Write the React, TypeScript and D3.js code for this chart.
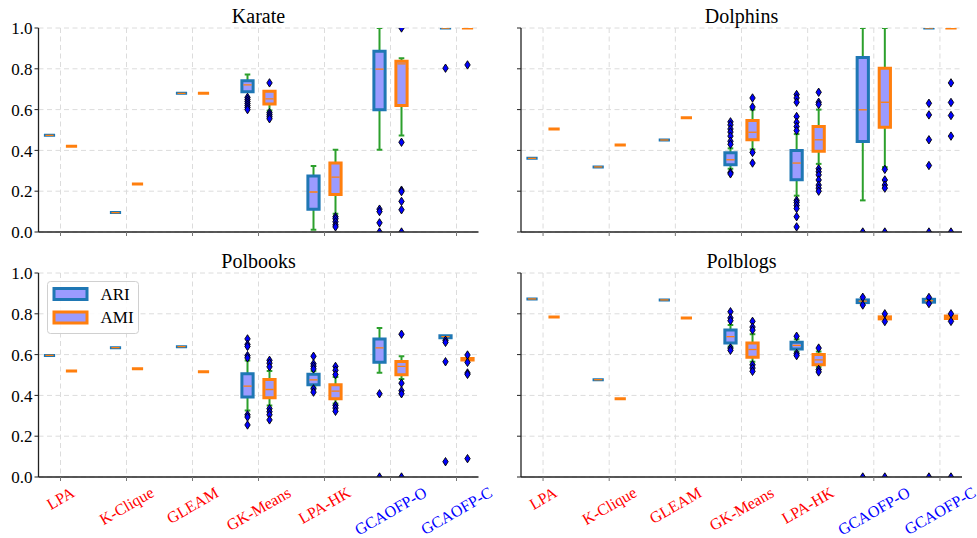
import React from "react";
import * as d3 from "d3";

// [lower whisker, q1, median, q3, upper whisker, fliers]
type Stat = [number, number, number, number, number, number[]];

const methods = ["LPA", "K-Clique", "GLEAM", "GK-Means", "LPA-HK", "GCAOFP-O", "GCAOFP-C"];
const methodColors = ["#ff0000", "#ff0000", "#ff0000", "#ff0000", "#ff0000", "#0000ff", "#0000ff"];
const yTicks = [0, 0.2, 0.4, 0.6, 0.8, 1.0];
const seriesNames = ["ARI", "AMI"];

const flat = (v: number): Stat => [v, v, v, v, v, []];

const karateAri: Stat[] = [
  flat(0.474),
  flat(0.095),
  flat(0.68),
  [0.687, 0.687, 0.721, 0.742, 0.772, [0.66, 0.65, 0.64, 0.63, 0.62, 0.61, 0.6]],
  [0.011, 0.111, 0.196, 0.274, 0.323, []],
  [0.403, 0.599, 0.798, 0.886, 1.0, [0.112, 0.1, 0.045, 0.0]],
  [1, 1, 1, 1, 1, [0.803]],
];
const karateAmi: Stat[] = [
  flat(0.42),
  flat(0.235),
  flat(0.68),
  [0.595, 0.628, 0.653, 0.69, 0.69, [0.731, 0.585, 0.575, 0.565, 0.555]],
  [0.09, 0.184, 0.269, 0.338, 0.403, [0.075, 0.065, 0.05, 0.035, 0.025]],
  [0.473, 0.62, 0.824, 0.837, 0.852, [1.0, 0.44, 0.205, 0.198, 0.15, 0.109, 0.0]],
  [1, 1, 1, 1, 1, [0.819]],
];

const dolphinsAri: Stat[] = [
  flat(0.361),
  flat(0.319),
  flat(0.451),
  [0.31, 0.33, 0.354, 0.388, 0.41, [0.54, 0.525, 0.505, 0.49, 0.47, 0.445, 0.43, 0.292, 0.285]],
  [0.178, 0.256, 0.338, 0.4, 0.48, [0.674, 0.657, 0.636, 0.566, 0.538, 0.517, 0.497, 0.155, 0.145, 0.13, 0.115, 0.075, 0.025]],
  [0.155, 0.444, 0.599, 0.856, 1.0, [0.0]],
  [1, 1, 1, 1, 1, [0.631, 0.574, 0.452, 0.326, 0.0]],
];
const dolphinsAmi: Stat[] = [
  flat(0.505),
  flat(0.426),
  flat(0.56),
  [0.405, 0.452, 0.489, 0.546, 0.6, [0.657, 0.613, 0.39, 0.338]],
  [0.334, 0.396, 0.452, 0.517, 0.6, [0.685, 0.636, 0.625, 0.31, 0.295, 0.28, 0.255, 0.23, 0.215, 0.2]],
  [0.318, 0.514, 0.636, 0.803, 1.0, [0.307, 0.255, 0.23, 0.215, 0.0]],
  [1, 1, 1, 1, 1, [0.731, 0.635, 0.571, 0.47, 0.0]],
];

const polbooksAri: Stat[] = [
  flat(0.596),
  flat(0.634),
  flat(0.639),
  [0.326, 0.392, 0.445, 0.506, 0.571, [0.677, 0.65, 0.64, 0.595, 0.584, 0.305, 0.294, 0.255]],
  [0.44, 0.452, 0.476, 0.504, 0.52, [0.592, 0.555, 0.543, 0.53, 0.432, 0.416]],
  [0.511, 0.563, 0.633, 0.677, 0.731, [0.408, 0.0]],
  [0.683, 0.683, 0.688, 0.693, 0.693, [0.67, 0.66, 0.565, 0.075]],
];
const polbooksAmi: Stat[] = [
  flat(0.52),
  flat(0.531),
  flat(0.516),
  [0.35, 0.388, 0.429, 0.478, 0.52, [0.572, 0.558, 0.54, 0.335, 0.32, 0.305, 0.28]],
  [0.36, 0.383, 0.421, 0.452, 0.49, [0.542, 0.523, 0.502, 0.351, 0.338, 0.322]],
  [0.48, 0.501, 0.542, 0.566, 0.592, [0.7, 0.46, 0.423, 0.408, 0.0]],
  [0.574, 0.574, 0.578, 0.581, 0.581, [0.598, 0.562, 0.51, 0.503, 0.09]],
];

const polblogsAri: Stat[] = [
  flat(0.873),
  flat(0.477),
  flat(0.868),
  [0.64, 0.657, 0.688, 0.721, 0.745, [0.81, 0.78, 0.766, 0.632, 0.621]],
  [0.615, 0.628, 0.645, 0.661, 0.675, [0.69, 0.605, 0.595]],
  [0.855, 0.855, 0.862, 0.868, 0.868, [0.881, 0.843, 0.0]],
  [0.857, 0.857, 0.864, 0.871, 0.871, [0.88, 0.85, 0.0]],
];
const polblogsAmi: Stat[] = [
  flat(0.784),
  flat(0.384),
  flat(0.779),
  [0.565, 0.587, 0.625, 0.657, 0.7, [0.763, 0.735, 0.72, 0.55, 0.534, 0.518]],
  [0.54, 0.55, 0.574, 0.6, 0.615, [0.632, 0.527, 0.515]],
  [0.775, 0.775, 0.78, 0.785, 0.785, [0.8, 0.762, 0.0]],
  [0.777, 0.777, 0.783, 0.789, 0.789, [0.8, 0.763, 0.0]],
];

const FONT = "'Liberation Serif', 'Times New Roman', serif";
const EDGE = ["#1f77b4", "#ff7f0e"];
const FILL = "#9b9bff";
const WHISKER = "#2ca02c";
const MEDIAN = "#ff7f0e";

let measureCtx: CanvasRenderingContext2D | null = null;
function textWidth(s: string, size: number): number {
  if (!measureCtx) {
    const c = document.createElement("canvas");
    measureCtx = c.getContext("2d");
  }
  if (!measureCtx) return s.length * size * 0.55;
  measureCtx.font = `${size}px ${FONT}`;
  return measureCtx.measureText(s).width;
}

type BoxProps = {
  stat: Stat;
  cx: number;
  halfW: number;
  y: d3.ScaleLinear<number, number>;
  edge: string;
};

function BoxMark({ stat, cx, halfW, y, edge }: BoxProps) {
  const [wl, q1, med, q3, wh, fliers] = stat;
  const capHalf = halfW / 2;
  const top = y(q3);
  const bot = y(q1);
  const boxPath = `M${cx - halfW},${bot}H${cx + halfW}V${top}H${cx - halfW}Z`;
  const diamond = "M0,-4.2L2.7,0L0,4.2L-2.7,0Z";
  return (
    <g>
      {wh > q3 && (
        <g stroke={WHISKER} strokeWidth={2}>
          <line x1={cx} x2={cx} y1={top} y2={y(wh)} />
          <line x1={cx - capHalf} x2={cx + capHalf} y1={y(wh)} y2={y(wh)} />
        </g>
      )}
      {wl < q1 && (
        <g stroke={WHISKER} strokeWidth={2}>
          <line x1={cx} x2={cx} y1={bot} y2={y(wl)} />
          <line x1={cx - capHalf} x2={cx + capHalf} y1={y(wl)} y2={y(wl)} />
        </g>
      )}
      <path d={boxPath} fill={FILL} stroke={edge} strokeWidth={3} strokeLinejoin="miter" />
      <line x1={cx - halfW + 1.5} x2={cx + halfW - 1.5} y1={y(med)} y2={y(med)} stroke={MEDIAN} strokeWidth={1.3} />
      {fliers.map((f, k) => (
        <path key={k} d={diamond} transform={`translate(${cx},${y(f)})`} fill="#0000ff" stroke="#000" strokeWidth={0.9} />
      ))}
    </g>
  );
}

type PanelProps = {
  id: string;
  title: string;
  ari: Stat[];
  ami: Stat[];
  x0: number;
  x1: number;
  yTop: number;
  yBot: number;
  showYLabels: boolean;
  showXLabels: boolean;
  legend?: boolean;
};

function Panel({ id, title, ari, ami, x0, x1, yTop, yBot, showYLabels, showXLabels, legend }: PanelProps) {
  const x = d3.scaleLinear().domain([-1 / 3, methods.length - 1 + 1 / 3]).range([x0, x1]);
  const y = d3.scaleLinear().domain([0, 1]).range([yBot, yTop]);
  const offset = 1 / 6;
  const halfW = (x(0.085) - x(0)) as number;
  const clipId = `clip-${id}`;

  return (
    <g>
      <defs>
        <clipPath id={clipId}>
          <rect x={x0} y={yTop} width={x1 - x0} height={yBot - yTop} />
        </clipPath>
      </defs>
      {/* grid */}
      <g stroke="#dcdcdc" strokeWidth={1} strokeDasharray="5,3.5">
        {yTicks.map((t) => (
          <line key={`gy${t}`} x1={x0} x2={x1} y1={y(t)} y2={y(t)} />
        ))}
        {methods.map((m, i) => (
          <line key={`gx${m}`} x1={x(i)} x2={x(i)} y1={yTop} y2={yBot} />
        ))}
      </g>
      {/* boxes */}
      <g clipPath={`url(#${clipId})`}>
        {methods.map((m, i) => (
          <g key={m}>
            <BoxMark stat={ari[i]} cx={x(i - offset)} halfW={halfW} y={y} edge={EDGE[0]} />
            <BoxMark stat={ami[i]} cx={x(i + offset)} halfW={halfW} y={y} edge={EDGE[1]} />
          </g>
        ))}
      </g>
      {/* spines */}
      <line x1={x0} x2={x0} y1={yTop} y2={yBot} stroke="#222" strokeWidth={1.3} />
      <line x1={x0} x2={x1} y1={yBot} y2={yBot} stroke="#222" strokeWidth={1.3} />
      {/* y ticks */}
      {yTicks.map((t) => (
        <g key={`yt${t}`}>
          <line x1={x0 - 4} x2={x0} y1={y(t)} y2={y(t)} stroke="#222" strokeWidth={1} />
          {showYLabels && (
            <text x={x0 - 6} y={y(t)} dy="0.36em" textAnchor="end" fontFamily={FONT} fontSize={17} fill="#000">
              {t.toFixed(1)}
            </text>
          )}
        </g>
      ))}
      {/* x ticks */}
      {methods.map((m, i) => {
        const cx = x(i);
        const L = textWidth(m, 16);
        const cy = yBot + 7 + (L * 0.5 + 16 * 1.0 * 0.866) / 2;
        return (
          <g key={`xt${m}`}>
            <line x1={cx} x2={cx} y1={yBot} y2={yBot + 4} stroke="#777" strokeWidth={1} />
            {showXLabels && (
              <text
                x={cx}
                y={cy}
                dy="0.35em"
                textAnchor="middle"
                fontFamily={FONT}
                fontSize={16}
                fill={methodColors[i]}
                transform={`rotate(-30,${cx},${cy})`}
              >
                {m}
              </text>
            )}
          </g>
        );
      })}
      {/* title */}
      <text x={(x0 + x1) / 2} y={yTop - 5} textAnchor="middle" fontFamily={FONT} fontSize={20} fill="#000">
        {title}
      </text>
      {legend && (
        <g>
          <rect x={x0 + 9} y={yTop + 8.5} width={91} height={52} rx={3} fill="#fff" fillOpacity={0.85} stroke="#d0d0d0" strokeWidth={1} />
          {seriesNames.map((s, k) => (
            <g key={s}>
              <rect x={x0 + 15.5} y={yTop + 15.5 + k * 23.5} width={33} height={11} fill={FILL} stroke={EDGE[k]} strokeWidth={3} />
              <text x={x0 + 62} y={yTop + 26.5 + k * 23.5} fontFamily={FONT} fontSize={17} fill="#000">
                {s}
              </text>
            </g>
          ))}
        </g>
      )}
    </g>
  );
}

export default function App() {
  const W = 977;
  const H = 538;
  const leftX = [38.5, 478.5];
  const rightX = [521, 962];
  const topY = [28, 232];
  const botY = [273, 477];
  return (
    <svg width={W} height={H} style={{ position: "absolute", left: 0, top: 0, background: "#fff" }}>
      <rect x={0} y={0} width={W} height={H} fill="#fff" />
      <Panel id="karate" title="Karate" ari={karateAri} ami={karateAmi} x0={leftX[0]} x1={leftX[1]} yTop={topY[0]} yBot={topY[1]} showYLabels showXLabels={false} />
      <Panel id="dolphins" title="Dolphins" ari={dolphinsAri} ami={dolphinsAmi} x0={rightX[0]} x1={rightX[1]} yTop={topY[0]} yBot={topY[1]} showYLabels={false} showXLabels={false} />
      <Panel id="polbooks" title="Polbooks" ari={polbooksAri} ami={polbooksAmi} x0={leftX[0]} x1={leftX[1]} yTop={botY[0]} yBot={botY[1]} showYLabels showXLabels legend />
      <Panel id="polblogs" title="Polblogs" ari={polblogsAri} ami={polblogsAmi} x0={rightX[0]} x1={rightX[1]} yTop={botY[0]} yBot={botY[1]} showYLabels={false} showXLabels />
    </svg>
  );
}
